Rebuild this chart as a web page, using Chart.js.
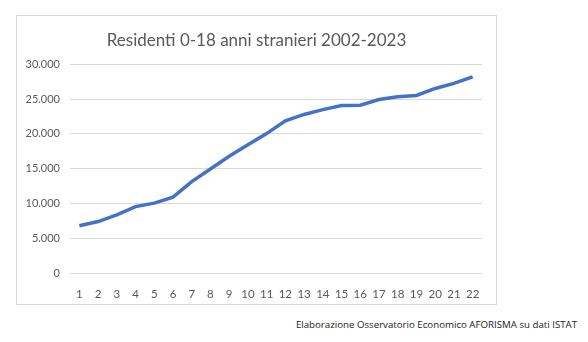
<!DOCTYPE html>
<html>
<head>
<meta charset="utf-8">
<script src="https://cdn.jsdelivr.net/npm/chart.js@4"></script>
<style>
  body { margin: 0; background: #fff; width: 588px; height: 342px; position: relative; overflow: hidden; }
  #box { position: absolute; left: 16px; top: 15px; width: 481px; height: 290px; border: 1px solid #d9d9d9; box-sizing: border-box; }
  #note { position: absolute; right: 11px; top: 318px; font-family: "Open Sans", sans-serif; font-size: 9.7px; color: #222; white-space: nowrap; }
</style>
</head>
<body>
<div id="box"><canvas id="chart"></canvas></div>
<div id="note">Elaborazione Osservatorio Economico AFORISMA su dati ISTAT</div>
<script>
// dati
const labels = ['1','2','3','4','5','6','7','8','9','10','11','12','13','14','15','16','17','18','19','20','21','22'];
const residenti = [6800, 7400, 8350, 9550, 10050, 10900, 13150, 14950, 16780, 18450, 20050, 21900, 22800, 23500, 24080, 24130, 24950, 25340, 25530, 26540, 27260, 28220];
const titolo = 'Residenti 0-18 anni stranieri 2002-2023';

const fmt = v => String(v).replace(/\B(?=(\d{3})+(?!\d))/g, '.');
const grey = '#595959';

new Chart(document.getElementById('chart'), {
    type: 'line',
    data: {
        labels: labels,
        datasets: [{
            data: residenti,
            borderColor: '#4472C4',
            borderWidth: 3.5,
            pointRadius: 0,
            tension: 0
        }]
    },
    options: {
        responsive: true,
        maintainAspectRatio: false,
        animation: false,
        plugins: {
            legend: { display: false },
            tooltip: { enabled: false },
            title: {
                display: true,
                text: titolo,
                color: grey,
                font: { family: 'Lato', size: 17, weight: 'normal' },
                padding: { top: 14, bottom: 14 }
            }
        },
        scales: {
            x: {
                offset: true,
                grid: { display: false },
                border: { display: false },
                ticks: { color: grey, font: { family: 'Lato', size: 11.5 }, maxRotation: 0, autoSkip: false, padding: 6 },
                afterFit: s => { s.height = 31; }
            },
            y: {
                min: 0,
                max: 30000,
                grid: { color: '#d9d9d9', lineWidth: 1, drawTicks: false },
                border: { display: false },
                ticks: { stepSize: 5000, color: grey, font: { family: 'Lato', size: 11 }, padding: 10, callback: v => fmt(v) },
                afterFit: s => { s.width = 53; }
            },
            // spazio vuoto a destra, così il titolo resta centrato sul riquadro
            margine: {
                type: 'linear',
                position: 'right',
                display: true,
                grid: { display: false },
                border: { display: false },
                ticks: { display: false },
                afterFit: s => { s.width = 14; }
            }
        }
    }
});
</script>
</body>
</html>
